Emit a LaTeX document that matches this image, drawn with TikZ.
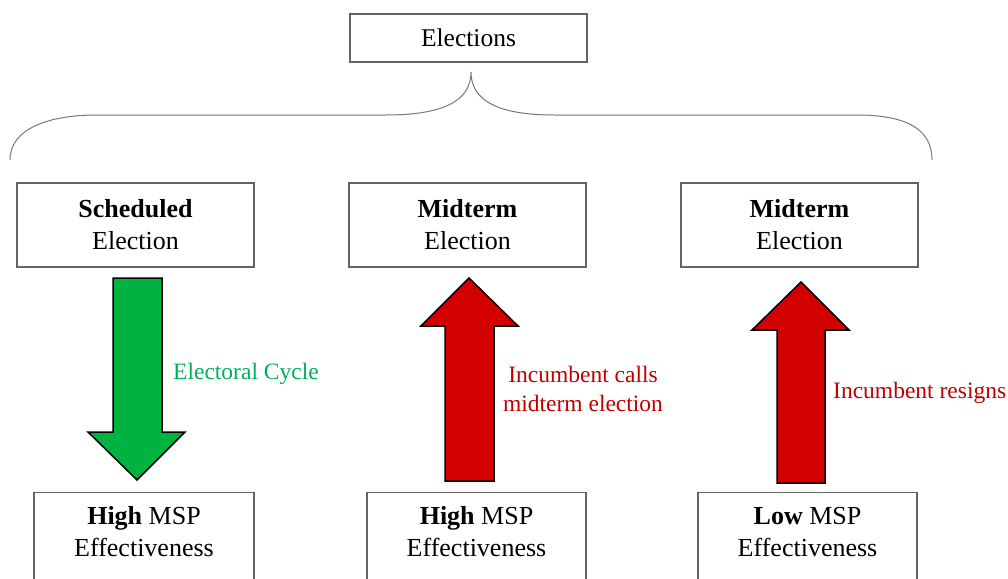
\documentclass[tikz,border=0pt]{standalone}
\usepackage{fontspec}
\setmainfont{Liberation Serif}
\definecolor{boxgray}{RGB}{100,100,100}
\definecolor{bracegray}{RGB}{120,120,120}
\definecolor{arrgreen}{RGB}{0,178,64}
\definecolor{txtgreen}{RGB}{0,176,90}
\definecolor{arrred}{RGB}{210,0,0}
\definecolor{txtred}{RGB}{192,0,0}
\tikzset{
  ebox/.style={draw=boxgray, line width=1.1pt, align=center, inner sep=0pt,
    font=\fontsize{26}{32}\selectfont},
  blockarr/.style={draw=black, line width=1.5pt, line join=miter},
  lbl/.style={inner sep=0pt, align=center, font=\fontsize{23.5}{29}\selectfont}
}
\begin{document}
\begin{tikzpicture}[x=1pt, y=-1pt]
  \useasboundingbox (0,0) rectangle (1008,578);
  \clip (0,0) rectangle (1008,578);
  % Elections
  \node[ebox, minimum width=237pt, minimum height=48pt, font=\fontsize{25.5}{32}\selectfont] (elec) at (468.5,38) {Elections};
  % curly brace
  \draw[bracegray, line width=1pt] (10,160) .. controls (10,128) and (50,115) .. (97,115)
    -- (386,115) .. controls (445,115) and (471,100) .. (471,72)
    .. controls (471,100) and (497,115) .. (554,115)
    -- (856,115) .. controls (905,115) and (932,128) .. (932,160);
  % type of election
  \node[ebox, minimum width=237pt, minimum height=84pt] (sched) at (135.5,225) {\textbf{Scheduled}\\Election};
  \node[ebox, minimum width=237pt, minimum height=84pt] (midA) at (467.5,225) {\textbf{Midterm}\\Election};
  \node[ebox, minimum width=237pt, minimum height=84pt] (midB) at (799.5,225) {\textbf{Midterm}\\Election};
  % MSP effectiveness (cut at the bottom)
  \node[ebox, minimum width=220pt, minimum height=120pt, anchor=north] (highA) at (144,492) {\textbf{High} MSP\\Effectiveness\\\strut};
  \node[ebox, minimum width=219pt, minimum height=120pt, anchor=north] (highB) at (476.5,492) {\textbf{High} MSP\\Effectiveness\\\strut};
  \node[ebox, minimum width=219pt, minimum height=120pt, anchor=north] (low) at (807.5,492) {\textbf{Low} MSP\\Effectiveness\\\strut};
  % block arrows
  \draw[blockarr, fill=arrgreen] (113,278) -- (162,278) -- (162,432) -- (185,432)
    -- (137,480) -- (88,432) -- (113,432) -- cycle;
  \draw[blockarr, fill=arrred] (445,481) -- (494,481) -- (494,326) -- (518,326)
    -- (469,278) -- (421,326) -- (445,326) -- cycle;
  \draw[blockarr, fill=arrred] (777,483) -- (825,483) -- (825,330) -- (849,330)
    -- (801,282) -- (752,330) -- (777,330) -- cycle;
  % labels
  \node[lbl, txtgreen, anchor=west] (cycle) at (173,374) {Electoral Cycle};
  \node[lbl, txtred] (calls) at (583,389) {Incumbent calls\\midterm election};
  \node[lbl, txtred, anchor=west] (resign) at (833,393) {Incumbent resigns};
\end{tikzpicture}
\end{document}
